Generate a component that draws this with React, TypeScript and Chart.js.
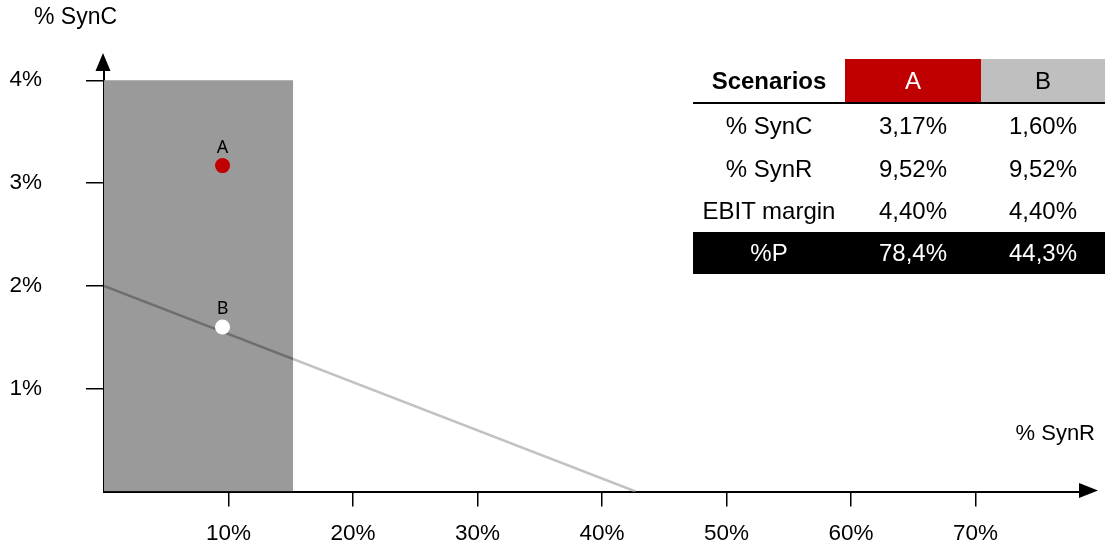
import React, { useEffect, useRef } from 'react';
import { Chart, registerables } from 'chart.js';

Chart.register(...registerables);

const FONT = '"Liberation Sans", Arial, Helvetica, sans-serif';

// Scenario table / points
const scenarios = ['A', 'B'];
const scenarioSynR = [9.52, 9.52];
const scenarioSynC = [3.17, 1.6];
const ebitMargin = [4.4, 4.4];
const pShare = [78.4, 44.3];
const pointColors = ['#C00000', '#FFFFFF'];
const headerColors = ['#C00000', '#BFBFBF'];
const headerTextColors = ['#FFFFFF', '#000000'];

// Break-even line: % SynC needed for a given % SynR
const breakEvenLine = [
  { x: 0, y: 2 },
  { x: 42.7, y: 0 },
];

// Shaded feasible zone
const zoneSynR = [0, 15.2];
const zoneSynC = 4;

// Axis ticks
const xTicks = [10, 20, 30, 40, 50, 60, 70];
const yTicks = [1, 2, 3, 4];

const LINE_DARK = '#6E6E6E';
const LINE_LIGHT = '#C2C2C2';
const ZONE_COLOR = '#9A9A9A';

// canvas is nudged down inside the frame; titles are placed in frame coordinates
const CANVAS_SHIFT = 6;

const fmt = (v: number, d: number) => v.toFixed(d).replace('.', ',') + '%';

const tableRows = [
  { label: '% SynC', values: scenarioSynC.map((v) => fmt(v, 2)), height: 43, dark: false },
  { label: '% SynR', values: scenarioSynR.map((v) => fmt(v, 2)), height: 43, dark: false },
  { label: 'EBIT margin', values: ebitMargin.map((v) => fmt(v, 2)), height: 42, dark: false },
  { label: '%P', values: pShare.map((v) => fmt(v, 1)), height: 42, dark: true },
];
const colWidths = [152, 136, 124];

const decorations = {
  id: 'decorations',
  afterDatasetsDraw(chart: any) {
    const ctx = chart.ctx;
    ctx.save();
    ctx.font = '18px "Noto Sans", "Open Sans", sans-serif';
    ctx.fillStyle = '#000';
    ctx.textAlign = 'center';
    ctx.textBaseline = 'middle';
    scenarios.forEach((name, i) => {
      const meta = chart.getDatasetMeta(i);
      const pt = meta.data[0];
      if (pt) ctx.fillText(name, pt.x, pt.y - 18);
    });
    ctx.restore();
  },
  afterDraw(chart: any) {
    const { ctx, chartArea } = chart;
    const { left, right, top, bottom } = chartArea;
    ctx.save();
    ctx.fillStyle = '#000';
    // y axis arrow
    ctx.beginPath();
    ctx.moveTo(left - 8.5, top + 1);
    ctx.lineTo(left - 1, top - 17);
    ctx.lineTo(left + 6.5, top + 1);
    ctx.closePath();
    ctx.fill();
    // x axis arrow
    ctx.beginPath();
    ctx.moveTo(right - 1, bottom - 8.5);
    ctx.lineTo(right + 18, bottom - 1);
    ctx.lineTo(right - 1, bottom + 6.5);
    ctx.closePath();
    ctx.fill();
    // axis titles
    ctx.textBaseline = 'middle';
    ctx.font = `23px ${FONT}`;
    ctx.textAlign = 'left';
    ctx.fillText('% SynC', 34, 18 - CANVAS_SHIFT);
    ctx.font = `22px ${FONT}`;
    ctx.textAlign = 'right';
    ctx.fillText('% SynR', 1095, 434 - CANVAS_SHIFT);
    ctx.restore();
  },
};

export default function App() {
  const canvasRef = useRef<HTMLCanvasElement | null>(null);

  useEffect(() => {
    const canvas = canvasRef.current;
    if (!canvas) return;

    const chart = new Chart(canvas, {
      type: 'line',
      data: {
        datasets: [
          ...scenarios.map((name, i) => ({
            label: name,
            data: [{ x: scenarioSynR[i], y: scenarioSynC[i] }],
            showLine: false,
            pointRadius: 7.5,
            pointBackgroundColor: pointColors[i],
            pointBorderWidth: 0,
            pointBorderColor: 'rgba(0,0,0,0)',
            order: i,
          })),
          {
            label: 'break-even',
            data: breakEvenLine,
            fill: false,
            borderWidth: 2.5,
            pointRadius: 0,
            order: 2,
            borderColor: (c: any) => {
              const ch = c.chart;
              if (!ch.chartArea || !ch.scales.x) return LINE_DARK;
              const xs = ch.scales.x;
              const x0 = xs.getPixelForValue(breakEvenLine[0].x);
              const x1 = xs.getPixelForValue(breakEvenLine[breakEvenLine.length - 1].x);
              const xz = xs.getPixelForValue(zoneSynR[1]);
              const t = Math.min(1, Math.max(0, (xz - x0) / (x1 - x0)));
              const g = ch.ctx.createLinearGradient(x0, 0, x1, 0);
              g.addColorStop(0, LINE_DARK);
              g.addColorStop(t, LINE_DARK);
              g.addColorStop(t, LINE_LIGHT);
              g.addColorStop(1, LINE_LIGHT);
              return g;
            },
          },
          {
            label: 'zone',
            data: zoneSynR.map((x) => ({ x, y: zoneSynC })),
            fill: 'origin',
            backgroundColor: ZONE_COLOR,
            borderColor: 'rgba(0,0,0,0)',
            borderWidth: 0,
            pointRadius: 0,
            order: 3,
          },
        ],
      },
      options: {
        responsive: false,
        devicePixelRatio: 1,
        animation: false,
        events: [],
        layout: {
          autoPadding: false,
          padding: { left: 0, top: 70 - CANVAS_SHIFT, right: 25, bottom: 0 },
        },
        plugins: {
          legend: { display: false },
          tooltip: { enabled: false },
        },
        scales: {
          x: {
            type: 'linear',
            min: 0,
            max: 78.4,
            z: 1,
            afterBuildTicks: (s: any) => {
              s.ticks = xTicks.map((v) => ({ value: v }));
            },
            afterFit: (s: any) => {
              s.height = 51;
            },
            grid: {
              drawOnChartArea: false,
              drawTicks: true,
              tickLength: 15,
              color: '#000',
              lineWidth: 1.5,
            },
            border: { display: true, color: '#000', width: 2 },
            ticks: {
              callback: (v: any) => `${v}%`,
              font: { family: FONT, size: 22.5 },
              color: '#000',
              padding: 14,
              maxRotation: 0,
              autoSkip: false,
            },
          },
          y: {
            type: 'linear',
            min: 0,
            max: 4.1,
            z: 1,
            afterBuildTicks: (s: any) => {
              s.ticks = yTicks.map((v) => ({ value: v }));
            },
            afterFit: (s: any) => {
              s.width = 104;
            },
            grid: {
              drawOnChartArea: false,
              drawTicks: true,
              tickLength: 18,
              color: '#000',
              lineWidth: 1.5,
            },
            border: { display: true, color: '#000', width: 2 },
            ticks: {
              callback: (v: any) => `${v}%`,
              font: { family: FONT, size: 22.5 },
              color: '#000',
              padding: 44,
              autoSkip: false,
            },
          },
        },
      },
      plugins: [decorations],
    } as any);

    return () => chart.destroy();
  }, []);

  const cellBase: React.CSSProperties = {
    display: 'flex',
    alignItems: 'center',
    justifyContent: 'center',
    boxSizing: 'border-box',
    whiteSpace: 'nowrap',
  };

  return (
    <div
      style={{
        position: 'fixed',
        left: 0,
        top: 0,
        width: 1105,
        height: 543,
        overflow: 'hidden',
        background: '#fff',
      }}
    >
      <canvas
        ref={canvasRef}
        width={1105}
        height={543}
        style={{ display: 'block', position: 'absolute', left: 0, top: CANVAS_SHIFT }}
      />
      <div
        style={{
          position: 'absolute',
          left: 693,
          top: 59,
          width: 412,
          fontFamily: FONT,
          fontSize: 24,
          color: '#000',
        }}
      >
        <div style={{ display: 'flex', height: 43, borderBottom: '2px solid #000' }}>
          <div style={{ ...cellBase, width: colWidths[0], fontWeight: 'bold' }}>Scenarios</div>
          {scenarios.map((name, i) => (
            <div
              key={name}
              style={{
                ...cellBase,
                width: colWidths[i + 1],
                background: headerColors[i],
                color: headerTextColors[i],
              }}
            >
              {name}
            </div>
          ))}
        </div>
        {tableRows.map((row) => (
          <div
            key={row.label}
            style={{
              display: 'flex',
              height: row.height,
              background: row.dark ? '#000' : 'transparent',
              color: row.dark ? '#fff' : '#000',
            }}
          >
            <div style={{ ...cellBase, width: colWidths[0] }}>{row.label}</div>
            {row.values.map((v, i) => (
              <div key={i} style={{ ...cellBase, width: colWidths[i + 1] }}>
                {v}
              </div>
            ))}
          </div>
        ))}
      </div>
    </div>
  );
}
